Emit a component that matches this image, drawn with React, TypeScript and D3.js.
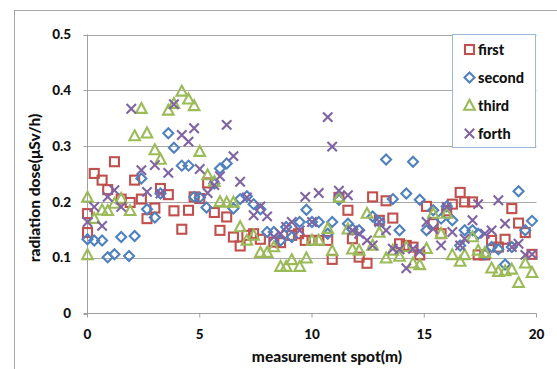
import React from 'react';
import * as d3 from 'd3';

// [spot (m), dose (µSv/h)] pairs
const first: [number, number][] = [
  [0, 0.179], [0, 0.145], [0.3, 0.251], [0.65, 0.239], [0.9, 0.222], [1.2, 0.272], [1.5, 0.205],
  [1.9, 0.199], [2.1, 0.239], [2.4, 0.205], [2.65, 0.17], [3.0, 0.189], [3.25, 0.224], [3.6, 0.213],
  [3.85, 0.184], [4.2, 0.151], [4.5, 0.185], [4.75, 0.209], [5.0, 0.206], [5.35, 0.234], [5.65, 0.181],
  [5.9, 0.149], [6.2, 0.173], [6.5, 0.137], [6.8, 0.121], [7.1, 0.14], [7.4, 0.143], [7.7, 0.133],
  [8.3, 0.128], [8.6, 0.127], [9.1, 0.14], [9.4, 0.143], [9.7, 0.131], [10.0, 0.131], [10.3, 0.131],
  [10.7, 0.131], [10.9, 0.097], [11.2, 0.208], [11.6, 0.185], [11.8, 0.134], [12.1, 0.101], [12.45, 0.09],
  [12.7, 0.209], [13.0, 0.167], [13.3, 0.202], [13.6, 0.171], [13.9, 0.125], [14.2, 0.122], [14.5, 0.119],
  [14.8, 0.105], [15.1, 0.192], [15.4, 0.161], [15.75, 0.143], [16.0, 0.184], [16.25, 0.196], [16.6, 0.217],
  [16.8, 0.2], [17.15, 0.2], [17.4, 0.105], [17.7, 0.105], [18.0, 0.131], [18.3, 0.119], [18.6, 0.133],
  [18.9, 0.188], [19.2, 0.162], [19.5, 0.145], [19.8, 0.106],
];

const second: [number, number][] = [
  [0, 0.133], [0.3, 0.131], [0.65, 0.131], [0.9, 0.101], [1.2, 0.106], [1.5, 0.137], [1.85, 0.103],
  [2.1, 0.139], [2.4, 0.242], [2.65, 0.187], [3.0, 0.172], [3.25, 0.215], [3.6, 0.323], [3.85, 0.297],
  [4.2, 0.265], [4.5, 0.265], [4.75, 0.209], [5.0, 0.208], [5.3, 0.19], [5.65, 0.233], [5.9, 0.26],
  [6.2, 0.269], [6.5, 0.188], [6.8, 0.205], [7.1, 0.21], [7.4, 0.196], [7.7, 0.187], [8.0, 0.146],
  [8.3, 0.146], [8.6, 0.131], [8.85, 0.155], [9.1, 0.137], [9.45, 0.164], [9.75, 0.186], [10.0, 0.164],
  [10.3, 0.164], [10.7, 0.143], [10.9, 0.164], [11.2, 0.204], [11.6, 0.161], [11.8, 0.151], [12.1, 0.149],
  [12.7, 0.174], [13.0, 0.164], [13.3, 0.276], [13.6, 0.205], [13.9, 0.149], [14.2, 0.215], [14.5, 0.272],
  [14.8, 0.204], [15.1, 0.149], [15.4, 0.185], [15.75, 0.17], [16.0, 0.192], [16.25, 0.167], [16.6, 0.122],
  [16.8, 0.149], [17.15, 0.149], [17.4, 0.143], [17.7, 0.106], [18.0, 0.119], [18.3, 0.115], [18.6, 0.088],
  [18.9, 0.119], [19.2, 0.219], [19.5, 0.149], [19.8, 0.166],
];

const third: [number, number][] = [
  [0, 0.105], [0, 0.208], [0.3, 0.17], [0.65, 0.185], [0.9, 0.184], [1.2, 0.197], [1.5, 0.206],
  [1.9, 0.184], [2.1, 0.318], [2.4, 0.367], [2.65, 0.323], [3.0, 0.293], [3.25, 0.276], [3.6, 0.364],
  [3.85, 0.376], [4.2, 0.398], [4.5, 0.384], [4.75, 0.372], [5.0, 0.29], [5.35, 0.248], [5.65, 0.236],
  [5.9, 0.2], [6.2, 0.199], [6.5, 0.199], [6.8, 0.155], [7.1, 0.131], [7.4, 0.14], [7.7, 0.109],
  [8.0, 0.109], [8.3, 0.119], [8.6, 0.084], [8.85, 0.084], [9.1, 0.096], [9.45, 0.084], [9.75, 0.099],
  [10.0, 0.131], [10.3, 0.131], [10.7, 0.152], [10.9, 0.112], [11.2, 0.208], [11.6, 0.151], [11.8, 0.115],
  [12.1, 0.113], [12.45, 0.179], [12.7, 0.122], [13.0, 0.145], [13.3, 0.099], [13.6, 0.113], [13.9, 0.102],
  [14.2, 0.119], [14.5, 0.09], [14.8, 0.087], [15.1, 0.116], [15.4, 0.179], [15.75, 0.143], [16.0, 0.179],
  [16.25, 0.105], [16.6, 0.093], [16.8, 0.105], [17.15, 0.137], [17.4, 0.113], [17.7, 0.109], [18.0, 0.081],
  [18.3, 0.075], [18.6, 0.076], [18.9, 0.079], [19.2, 0.055], [19.5, 0.09], [19.8, 0.073],
];

const forth: [number, number][] = [
  [0, 0.164], [0.3, 0.191], [0.65, 0.157], [0.9, 0.209], [1.2, 0.221], [1.5, 0.191], [1.95, 0.367],
  [2.4, 0.257], [2.65, 0.218], [3.0, 0.266], [3.25, 0.215], [3.6, 0.252], [3.85, 0.375], [4.2, 0.32],
  [4.5, 0.308], [4.75, 0.332], [5.0, 0.259], [5.35, 0.216], [5.65, 0.23], [5.9, 0.246], [6.2, 0.338],
  [6.5, 0.282], [6.8, 0.236], [7.1, 0.208], [7.4, 0.176], [7.7, 0.192], [8.0, 0.174], [8.3, 0.137],
  [8.6, 0.143], [8.85, 0.155], [9.1, 0.164], [9.45, 0.149], [9.7, 0.209], [10.0, 0.164], [10.3, 0.216],
  [10.7, 0.352], [10.9, 0.299], [11.2, 0.22], [11.6, 0.212], [11.8, 0.149], [12.1, 0.143], [12.45, 0.131],
  [12.7, 0.122], [13.0, 0.164], [13.3, 0.149], [13.6, 0.116], [13.9, 0.115], [14.2, 0.081], [14.5, 0.116],
  [14.8, 0.111], [15.1, 0.164], [15.4, 0.152], [15.75, 0.122], [16.0, 0.191], [16.25, 0.146], [16.6, 0.122],
  [16.8, 0.134], [17.15, 0.167], [17.4, 0.196], [17.7, 0.143], [18.0, 0.149], [18.3, 0.203], [18.6, 0.161],
  [18.9, 0.119], [19.2, 0.125], [19.5, 0.105], [19.8, 0.106],
];

const seriesNames = ['first', 'second', 'third', 'forth'];
const xTicks = [0, 5, 10, 15, 20];
const yTicks = [0, 0.1, 0.2, 0.3, 0.4, 0.5];

const colors = ['#C0504D', '#4F81BD', '#9BBB59', '#8064A2'];
const shapes = ['square', 'diamond', 'triangle', 'cross'];
const font = 'Lato, "Open Sans", sans-serif';
const ink = '#111';

const Marker = ({ shape, x, y, color }: { shape: string; x: number; y: number; color: string }) => {
  const sw = 2.1;
  if (shape === 'square') {
    const s = 4.5;
    return <rect x={x - s} y={y - s} width={s * 2} height={s * 2} fill="none" stroke={color} strokeWidth={sw} />;
  }
  if (shape === 'diamond') {
    const d = 5;
    return <path d={`M${x},${y - d}L${x + d},${y}L${x},${y + d}L${x - d},${y}Z`} fill="none" stroke={color} strokeWidth={sw} />;
  }
  if (shape === 'triangle') {
    return <path d={`M${x},${y - 5.7}L${x + 5.3},${y + 4.2}L${x - 5.3},${y + 4.2}Z`} fill="none" stroke={color} strokeWidth={sw} />;
  }
  return <path d={`M${x - 4.7},${y - 4.7}L${x + 4.7},${y + 4.7}M${x + 4.7},${y - 4.7}L${x - 4.7},${y + 4.7}`} stroke={color} strokeWidth={sw} />;
};

export default function App() {
  const width = 557;
  const height = 369;
  const x = d3.scaleLinear().domain([0, 20]).range([87.5, 536.5]);
  const y = d3.scaleLinear().domain([0, 0.5]).range([313.5, 34.5]);
  const all = [first, second, third, forth];

  return (
    <svg width={width} height={height} style={{ position: 'absolute', left: 0, top: 0, background: '#fff' }}>
      <rect x={14.5} y={10.5} width={600} height={400} fill="#fff" stroke="#A6A6A6" strokeWidth={1} />

      {/* gridlines */}
      {yTicks.filter(t => t > 0).map(t => (
        <line key={t} x1={x(0)} x2={x(20)} y1={Math.round(y(t)) + 0.5} y2={Math.round(y(t)) + 0.5} stroke="#A8A8A8" strokeWidth={1} />
      ))}

      {/* axes */}
      <line x1={x(0)} x2={x(0)} y1={y(0.5)} y2={y(0)} stroke="#A0A0A0" />
      <line x1={x(0) - 4} x2={x(20)} y1={y(0)} y2={y(0)} stroke="#A0A0A0" />
      {yTicks.map(t => (
        <line key={'yt' + t} x1={x(0) - 4} x2={x(0)} y1={Math.round(y(t)) + 0.5} y2={Math.round(y(t)) + 0.5} stroke="#A0A0A0" />
      ))}
      {xTicks.map(t => (
        <line key={'xt' + t} x1={x(t)} x2={x(t)} y1={y(0)} y2={y(0) + 4} stroke="#A0A0A0" />
      ))}

      {/* tick labels */}
      {yTicks.map(t => (
        <text key={'yl' + t} x={71} y={y(t)} dy="0.35em" textAnchor="end" fontFamily={font} fontWeight={900} fontSize={13.5} fill={ink}>
          {t === 0 ? '0' : d3.format('.1f')(t)}
        </text>
      ))}
      {xTicks.map(t => (
        <text key={'xl' + t} x={x(t)} y={334} dy="0.35em" textAnchor="middle" fontFamily={font} fontWeight={900} fontSize={13.5} fill={ink}>
          {t}
        </text>
      ))}

      {/* axis titles */}
      <text x={327} y={357} dy="0.35em" textAnchor="middle" fontFamily={font} fontWeight={900} fontSize={15.5} fill={ink}>
        measurement spot(m)
      </text>
      <text transform={`translate(35,188) rotate(-90)`} dy="0.35em" textAnchor="middle" fontFamily={font} fontWeight={900} fontSize={15.5} fill={ink}>
        radiation dose(μSv/h)
      </text>

      {/* points */}
      {all.map((data, si) => (
        <g key={seriesNames[si]}>
          {data.map((d, i) => (
            <Marker key={i} shape={shapes[si]} x={x(d[0])} y={y(d[1])} color={colors[si]} />
          ))}
        </g>
      ))}

      {/* legend */}
      <rect x={452.5} y={34.5} width={83} height={113} fill="#fff" stroke="#9DB7D5" strokeWidth={1} />
      {seriesNames.map((name, i) => (
        <g key={'lg' + name}>
          <Marker shape={shapes[i]} x={469.5} y={49.5 + i * 28} color={colors[i]} />
          <text x={478} y={49.5 + i * 28} dy="0.35em" fontFamily={font} fontWeight={900} fontSize={14.5} fill={ink}>
            {name}
          </text>
        </g>
      ))}
    </svg>
  );
}
